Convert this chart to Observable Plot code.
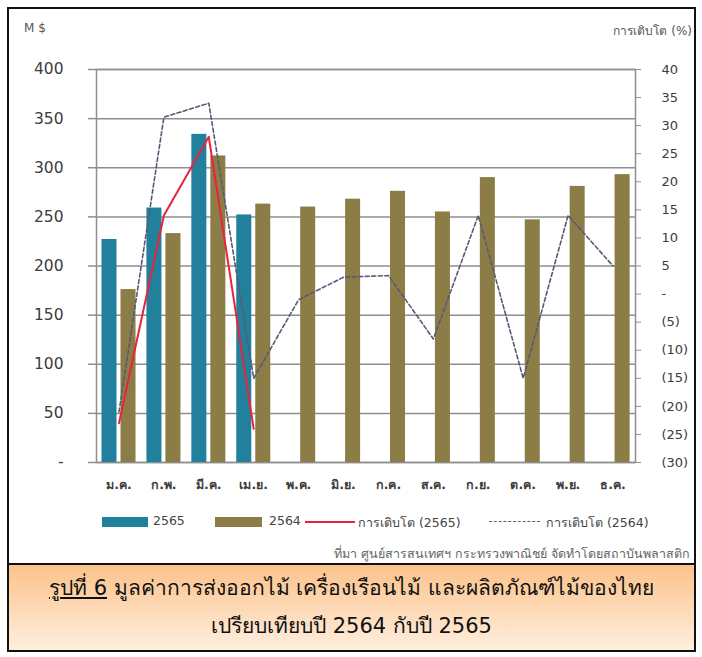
<!DOCTYPE html>
<html>
<head>
<meta charset="utf-8">
<script src="https://cdn.jsdelivr.net/npm/d3@7"></script>
<script src="https://cdn.jsdelivr.net/npm/@observablehq/plot@0.6"></script>
<style>
  html, body { margin: 0; padding: 0; background: #fff; }
  #page { position: relative; width: 702px; height: 657px; overflow: hidden; font-family: "DejaVu Sans", "Noto Sans", sans-serif; }
  #box { position: absolute; left: 7px; top: 7px; width: 689px; height: 558px; border: 2px solid #111; box-sizing: border-box; }
  #chart { position: absolute; left: 0; top: 0; }
  .lbl { position: absolute; white-space: nowrap; color: #555; }
  #caption { position: absolute; left: 7px; top: 563px; width: 689px; height: 89px; box-sizing: border-box;
    border: 2px solid #111; background: linear-gradient(#fbc38a, #ffeedf); text-align: center; color: #111; }
  #caption div { font-size: 21px; line-height: 38px; }
  #legend { position: absolute; top: 512px; left: 0; width: 702px; height: 20px; }
  .sw { position: absolute; }
</style>
</head>
<body>
<div id="page">
  <div id="box"></div>
  <div id="chart"></div>
  <div class="lbl" style="left:24px; top:21px; font-size:12px;">M $</div>
  <div class="lbl" style="right:10px; top:21px; font-size:12px;">การเติบโต (%)</div>
  <div id="legend"></div>
  <div class="lbl" style="right:12px; top:544px; font-size:12.5px; color:#666;">ที่มา ศูนย์สารสนเทศฯ กระทรวงพาณิชย์ จัดทำโดยสถาบันพลาสติก</div>
  <div id="caption">
    <div style="margin-top:4px;"><span style="text-decoration:underline;">รูปที่ 6</span> มูลค่าการส่งออกไม้ เครื่องเรือนไม้ และผลิตภัณฑ์ไม้ของไทย</div>
    <div>เปรียบเทียบปี 2564 กับปี 2565</div>
  </div>
</div>
<script>
const months = ["ม.ค.","ก.พ.","มี.ค.","เม.ย.","พ.ค.","มิ.ย.","ก.ค.","ส.ค.","ก.ย.","ต.ค.","พ.ย.","ธ.ค."];
const value2565 = [227, 259, 334, 252];
const value2564 = [176, 233, 312, 263, 260, 268, 276, 255, 290, 247, 281, 293];
const growth2565 = [-23, 14, 28, -24];
const growth2564 = [-21, 31.5, 34, -15, -1, 3, 3.3, -8, 14, -15, 14, 5];
const leftTicks = [0, 50, 100, 150, 200, 250, 300, 350, 400];
const rightTicks = [-30, -25, -20, -15, -10, -5, 0, 5, 10, 15, 20, 25, 30, 35, 40];
const seriesNames = ["2565", "2564", "การเติบโต (2565)", "การเติบโต (2564)"];

const colTeal = "#21809c", colOlive = "#8c7d47", colRed = "#e8233d", colDash = "#585a74", colGrid = "#8e8e8e";

// growth (%) mapped onto the left value axis: -30..40 -> 0..400
const toLeft = g => (g + 30) * 400 / 70;
const fromLeft = v => v * 70 / 400 - 30;
const fmtRight = g => g === 0 ? "-" : g < 0 ? `(${-g})` : `${g}`;

const bars65 = value2565.map((v, i) => ({m: months[i], v}));
const bars64 = value2564.map((v, i) => ({m: months[i], v}));
const line65 = growth2565.map((g, i) => ({m: months[i], y: toLeft(g)}));
const line64 = growth2564.map((g, i) => ({m: months[i], y: toLeft(g)}));

const chart = Plot.plot({
  width: 702, height: 500,
  marginLeft: 96, marginRight: 67, marginTop: 69, marginBottom: 38,
  style: {fontFamily: "DejaVu Sans, Noto Sans, sans-serif", fontSize: "15px", color: "#3c3c3c", background: "transparent"},
  x: {domain: months, padding: 0, round: false, axis: null},
  y: {domain: [0, 400], axis: null},
  marks: [
    Plot.gridY(leftTicks, {stroke: colGrid, strokeOpacity: 1, strokeWidth: 1.5}),
    Plot.frame({stroke: colGrid, strokeWidth: 1.5}),
    Plot.axisY({anchor: "left", ticks: leftTicks, tickSize: 8, tickPadding: 25, stroke: colGrid, strokeWidth: 1.5,
      tickFormat: d => d === 0 ? "-" : `${d}`, fontSize: 15.5, label: null}),
    Plot.axisY({anchor: "right", ticks: rightTicks.map(toLeft), tickSize: 5, tickPadding: 21, stroke: colGrid,
      tickFormat: d => fmtRight(Math.round(fromLeft(d))), fontSize: 13, label: null}),
    Plot.axisX({anchor: "bottom", tickSize: 0, tickPadding: 18, fontSize: 12.5, fontWeight: "bold", label: null}),
    Plot.barY(bars65, {x: "m", y: "v", fill: colTeal, insetLeft: 5.5, insetRight: 24.4}),
    Plot.barY(bars64, {x: "m", y: "v", fill: colOlive, insetLeft: 24.5, insetRight: 5.4}),
    Plot.lineY(line64, {x: "m", y: "y", stroke: colDash, strokeWidth: 1.6, strokeDasharray: "4,2.5"}),
    Plot.lineY(line65, {x: "m", y: "y", stroke: colRed, strokeWidth: 2})
  ]
});
document.getElementById("chart").appendChild(chart);

// legend
const legend = document.getElementById("legend");
const items = [
  {type: "rect", color: colTeal, x: 102, w: 46, tx: 153},
  {type: "rect", color: colOlive, x: 215, w: 47, tx: 269},
  {type: "line", color: colRed, x: 305, w: 50, tx: 358},
  {type: "dash", color: colDash, x: 489, w: 51, tx: 546}
];
items.forEach((it, i) => {
  const s = document.createElement("div");
  s.className = "sw";
  if (it.type === "rect") {
    s.style.cssText = `left:${it.x}px; top:5px; width:${it.w}px; height:10px; background:${it.color};`;
  } else if (it.type === "line") {
    s.style.cssText = `left:${it.x}px; top:9px; width:${it.w}px; height:0; border-top:2px solid ${it.color};`;
  } else {
    s.style.cssText = `left:${it.x}px; top:9px; width:${it.w}px; height:0; border-top:1.6px dashed ${it.color};`;
  }
  legend.appendChild(s);
  const t = document.createElement("div");
  t.className = "lbl";
  t.style.cssText = `left:${it.tx}px; top:1px; font-size:12.5px; color:#444;`;
  t.textContent = seriesNames[i];
  legend.appendChild(t);
});
</script>
</body>
</html>
